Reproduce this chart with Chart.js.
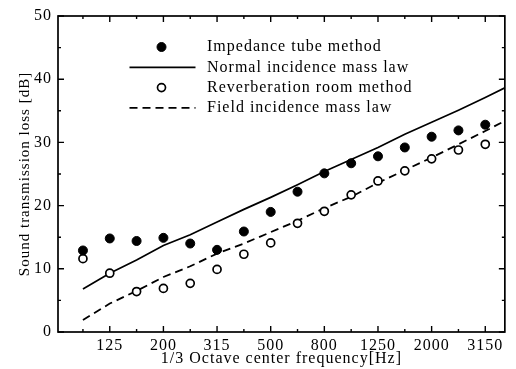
<!DOCTYPE html>
<html>
<head>
<meta charset="utf-8">
<script src="https://cdn.jsdelivr.net/npm/chart.js@4/dist/chart.umd.min.js"></script>
<style>
  body { margin: 0; background: #fff; }
</style>
</head>
<body>
<canvas id="tlChart" width="516" height="369"></canvas>
<script>
// 1/3 octave bands (4000 only so the mass-law lines run to the right edge)
const bands = ['100', '125', '160', '200', '250', '315', '400', '500', '630', '800', '1000', '1250', '1600', '2000', '2500', '3150', '4000'];
const labeledBands = ['125', '200', '315', '500', '800', '1250', '2000', '3150'];

const impedanceTube = [12.9, 14.8, 14.4, 14.9, 14.0, 13.0, 15.9, 19.0, 22.2, 25.1, 26.7, 27.8, 29.2, 30.9, 31.9, 32.8];
const reverbRoom = [11.6, 9.3, 6.4, 6.9, 7.7, 9.9, 12.3, 14.1, 17.2, 19.1, 21.7, 23.9, 25.5, 27.4, 28.8, 29.7];
const normalMassLaw = [6.8, 9.3, 11.4, 13.7, 15.4, 17.4, 19.4, 21.3, 23.3, 25.4, 27.3, 29.2, 31.3, 33.2, 35.1, 37.1, 39.2];
const fieldMassLaw = [1.9, 4.5, 6.5, 8.7, 10.4, 12.4, 14.0, 15.8, 17.6, 19.6, 21.4, 23.6, 25.6, 27.6, 29.7, 31.8, 34.0];

const yTicks = [0, 5, 10, 15, 20, 25, 30, 35, 40, 45, 50];

const serif = "'Liberation Serif', 'Times New Roman', serif";

function toPoints(values) {
    return values.map((v, i) => ({ x: i, y: v }));
}

// frame, inward tick marks and the in-plot legend
const framePlugin = {
    id: 'frame',
    beforeDraw(chart) {
        chart.ctx.letterSpacing = '1px';
    },
    afterDraw(chart) {
        const ctx = chart.ctx;
        const area = chart.chartArea;
        const xs = chart.scales.x;
        const ys = chart.scales.y;
        ctx.save();
        ctx.strokeStyle = '#000';
        ctx.lineWidth = 1.7;
        ctx.strokeRect(area.left, area.top, area.right - area.left, area.bottom - area.top);

        ctx.lineWidth = 1.4;
        ctx.beginPath();
        bands.forEach((b, i) => {
            const px = xs.getPixelForValue(i);
            if (px <= area.left || px >= area.right) return;
            const len = labeledBands.includes(b) ? 6 : 3;
            ctx.moveTo(px, area.bottom);
            ctx.lineTo(px, area.bottom - len);
            ctx.moveTo(px, area.top);
            ctx.lineTo(px, area.top + len);
        });
        yTicks.forEach(v => {
            const py = ys.getPixelForValue(v);
            const len = v % 10 === 0 ? 6 : 3;
            ctx.moveTo(area.left, py);
            ctx.lineTo(area.left + len, py);
            ctx.moveTo(area.right, py);
            ctx.lineTo(area.right - len, py);
        });
        ctx.stroke();

        // legend
        const markX = area.left + 103.5;
        const lineX0 = area.left + 71.5;
        const lineX1 = area.left + 137.5;
        const textX = area.left + 149;
        ctx.font = '16px ' + serif;
        ctx.textBaseline = 'middle';
        ctx.textAlign = 'left';
        chart.data.datasets.forEach((ds, i) => {
            const y = area.top + 31 + i * 20.3;
            ctx.strokeStyle = '#000';
            if (ds.showLine === false) {
                ctx.beginPath();
                ctx.arc(markX, y, ds.pointRadius, 0, Math.PI * 2);
                ctx.fillStyle = ds.pointBackgroundColor;
                ctx.fill();
                ctx.lineWidth = ds.pointBorderWidth;
                ctx.stroke();
            } else {
                ctx.beginPath();
                ctx.setLineDash(ds.borderDash || []);
                ctx.lineWidth = ds.borderWidth;
                ctx.moveTo(lineX0, y);
                ctx.lineTo(lineX1, y);
                ctx.stroke();
                ctx.setLineDash([]);
            }
            ctx.fillStyle = '#000';
            ctx.fillText(ds.label, textX, y);
        });
        ctx.restore();
    }
};

new Chart(document.getElementById('tlChart'), {
    type: 'scatter',
    data: {
        datasets: [
            {
                label: 'Impedance tube method',
                data: toPoints(impedanceTube),
                showLine: false,
                pointRadius: 4.5,
                pointBackgroundColor: '#000',
                pointBorderColor: '#000',
                pointBorderWidth: 1,
                order: 1
            },
            {
                label: 'Normal incidence mass law',
                data: toPoints(normalMassLaw),
                showLine: true,
                borderColor: '#000',
                borderWidth: 1.7,
                pointRadius: 0,
                order: 2
            },
            {
                label: 'Reverberation room method',
                data: toPoints(reverbRoom),
                showLine: false,
                pointRadius: 4,
                pointBackgroundColor: '#fff',
                pointBorderColor: '#000',
                pointBorderWidth: 1.7,
                order: 1
            },
            {
                label: 'Field incidence mass law',
                data: toPoints(fieldMassLaw),
                showLine: true,
                borderColor: '#000',
                borderWidth: 1.8,
                borderDash: [8, 5],
                pointRadius: 0,
                order: 2
            }
        ]
    },
    options: {
        responsive: false,
        devicePixelRatio: 1,
        animation: false,
        layout: { padding: { top: 16, right: 3, left: 0, bottom: 0 } },
        plugins: {
            legend: { display: false },
            tooltip: { enabled: false }
        },
        scales: {
            x: {
                type: 'linear',
                min: -0.93,
                max: 15.73,
                afterBuildTicks: scale => {
                    scale.ticks = bands.map((b, i) => ({ value: i }));
                },
                afterFit: scale => { scale.height = 37; },
                grid: { display: false, drawTicks: false },
                border: { display: false },
                ticks: {
                    autoSkip: false,
                    maxRotation: 0,
                    padding: 4,
                    color: '#000',
                    font: { family: serif, size: 16 },
                    callback: value => {
                        const b = bands[value];
                        return labeledBands.includes(b) ? b : '';
                    }
                },
                title: {
                    display: true,
                    text: '1/3 Octave center frequency[Hz]',
                    color: '#000',
                    font: { family: serif, size: 16 },
                    padding: { top: 0, bottom: 1 }
                }
            },
            y: {
                min: 0,
                max: 50,
                afterFit: scale => { scale.width = 58; },
                grid: { display: false, drawTicks: false },
                border: { display: false },
                ticks: {
                    stepSize: 10,
                    padding: 6,
                    color: '#000',
                    font: { family: serif, size: 16 }
                },
                title: {
                    display: true,
                    text: 'Sound transmission loss [dB]',
                    color: '#000',
                    font: { family: serif, size: 15 },
                    padding: { top: 16, bottom: 0 }
                }
            }
        }
    },
    plugins: [framePlugin]
});
</script>
</body>
</html>
